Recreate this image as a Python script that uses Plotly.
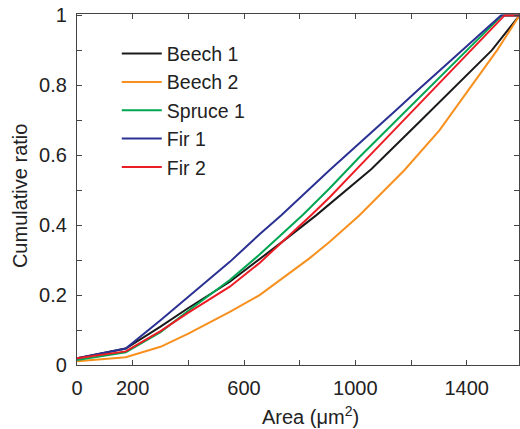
import plotly.graph_objects as go

# ---- data ----
series_names = ["Beech 1", "Beech 2", "Spruce 1", "Fir 1", "Fir 2"]
series_colors = ["#1a1a1a", "#f7901e", "#00a651", "#2b3192", "#ec1c24"]

beech1_area = [0, 175, 300, 400, 549, 656, 750, 859, 907, 1057, 1230, 1400, 1490, 1590]
beech1_ratio = [0.019, 0.047, 0.110, 0.163, 0.238, 0.302, 0.360, 0.428, 0.460, 0.560, 0.695, 0.830, 0.900, 1.0]

beech2_area = [0, 175, 300, 400, 549, 656, 835, 907, 1015, 1176, 1302, 1400, 1509, 1590]
beech2_ratio = [0.011, 0.022, 0.052, 0.090, 0.152, 0.200, 0.305, 0.352, 0.4286, 0.557, 0.671, 0.780, 0.900, 1.0]

spruce1_area = [0, 175, 300, 400, 549, 656, 810, 907, 1015, 1230, 1527, 1590]
spruce1_ratio = [0.014, 0.036, 0.094, 0.155, 0.243, 0.316, 0.4286, 0.505, 0.595, 0.765, 1.0, 1.0]

fir1_area = [0, 175, 300, 441, 549, 656, 734, 907, 985, 1146, 1230, 1523, 1590]
fir1_ratio = [0.019, 0.047, 0.128, 0.224, 0.295, 0.374, 0.4286, 0.557, 0.614, 0.729, 0.790, 1.0, 1.0]

fir2_area = [0, 175, 300, 400, 549, 656, 841, 907, 1015, 1230, 1536, 1590]
fir2_ratio = [0.019, 0.039, 0.097, 0.150, 0.224, 0.292, 0.4286, 0.479, 0.569, 0.748, 1.0, 1.0]

x_tickvals = [0, 200, 600, 1000, 1400]
x_minor_step = 200
y_tickvals = [0, 0.2, 0.4, 0.6, 0.8, 1.0]
y_ticktext = ["0", "0.2", "0.4", "0.6", "0.8", "1"]
y_minor_step = 0.1

x_title = "Area (μm<sup>2</sup>)"
y_title = "Cumulative ratio"

areas = [beech1_area, beech2_area, spruce1_area, fir1_area, fir2_area]
ratios = [beech1_ratio, beech2_ratio, spruce1_ratio, fir1_ratio, fir2_ratio]

FONT = "Liberation Sans, Arial, Helvetica, sans-serif"
TXT = "#222"

fig = go.Figure()
for name, color, xs, ys in zip(series_names, series_colors, areas, ratios):
    fig.add_trace(go.Scatter(x=xs, y=ys, mode="lines", name=name,
                             line=dict(color=color, width=2)))

axis_common = dict(showgrid=False, zeroline=False, showline=True, linecolor="#444",
                   linewidth=1.3, mirror="ticks", ticks="inside", ticklen=5,
                   tickcolor="#444", tickwidth=1.2,
                   tickfont=dict(family=FONT, size=20, color=TXT))

fig.update_layout(
    width=520, height=429,
    margin=dict(l=77, r=1, t=14, b=64, autoexpand=False),
    paper_bgcolor="white", plot_bgcolor="white",
    font=dict(family=FONT, size=20, color=TXT),
    xaxis=dict(range=[0, 1588], tickmode="array", tickvals=x_tickvals,
               ticktext=[str(v) for v in x_tickvals],
               minor=dict(tick0=0, dtick=x_minor_step, ticks="inside", ticklen=5,
                          tickcolor="#444", tickwidth=1.2, showgrid=False),
               ticklabelstandoff=5,
               **axis_common),
    yaxis=dict(range=[0, 1.004], tickmode="array", tickvals=y_tickvals, ticktext=y_ticktext,
               minor=dict(tick0=0, dtick=y_minor_step, ticks="inside", ticklen=5,
                          tickcolor="#444", tickwidth=1.2, showgrid=False),
               ticklabelstandoff=5,
               **axis_common),
    legend=dict(x=0.09, y=0.942, xanchor="left", yanchor="top", bgcolor="rgba(0,0,0,0)",
                itemwidth=40, font=dict(family=FONT, size=19.5, color=TXT)),
)

fig.add_annotation(text=x_title, xref="paper", yref="paper", x=0.529, y=-0.143,
                   xanchor="center", yanchor="middle", showarrow=False,
                   font=dict(family=FONT, size=20, color=TXT))
fig.add_annotation(text=y_title, xref="paper", yref="paper", x=-0.129, y=0.484,
                   xanchor="center", yanchor="middle", textangle=-90, showarrow=False,
                   font=dict(family=FONT, size=20, color=TXT))

fig.write_html("out.html", config={"displayModeBar": False},
               post_script="document.body.style.margin='0px';")
